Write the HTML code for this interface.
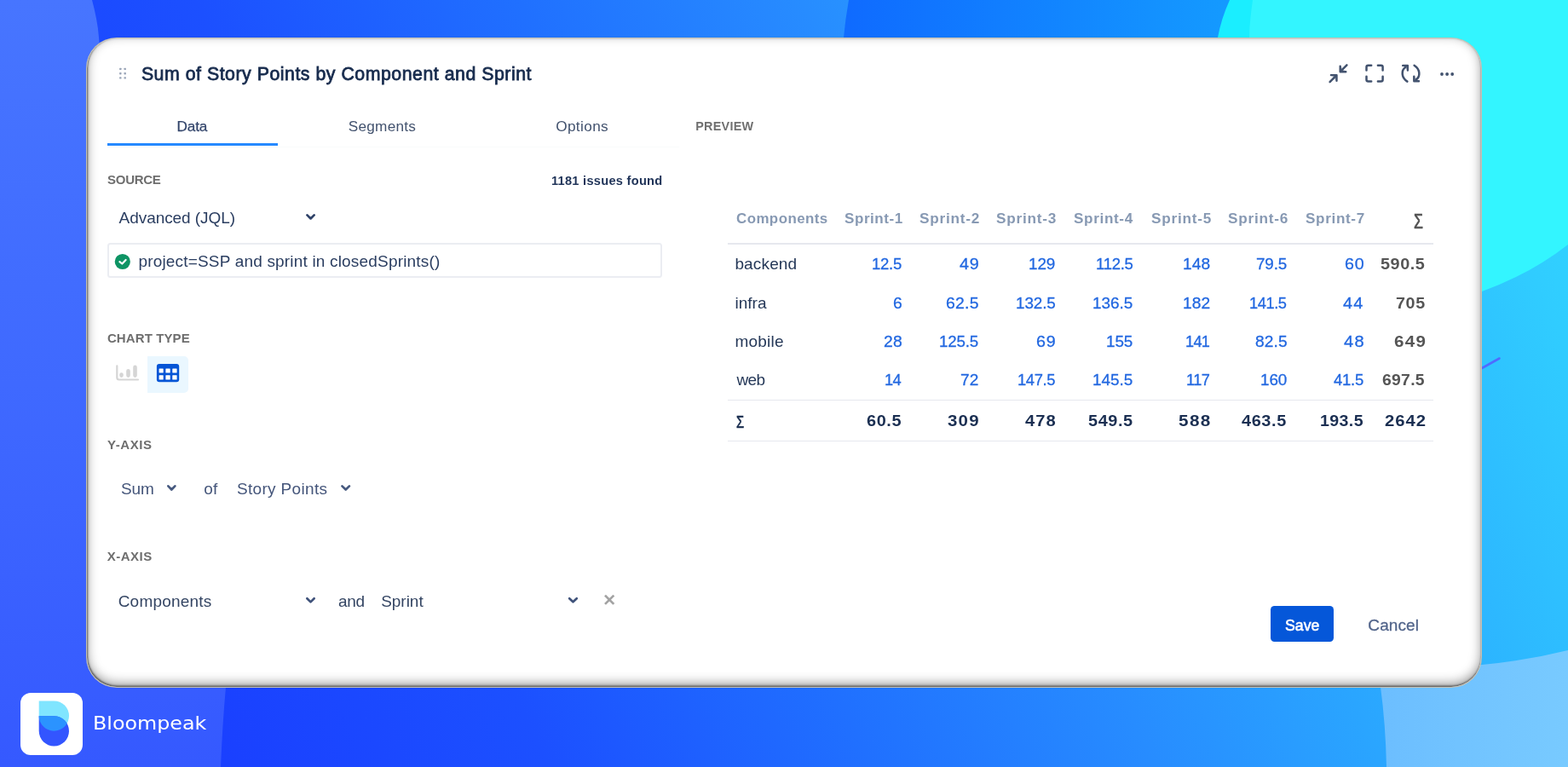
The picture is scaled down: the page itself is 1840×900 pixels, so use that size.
<!DOCTYPE html>
<html lang="en">
<head>
<meta charset="utf-8">
<title>Sum of Story Points by Component and Sprint</title>
<style>
html,body{margin:0;padding:0;width:1840px;height:900px;overflow:hidden;background:#1f5bff;}
body{position:relative;font-family:"Liberation Sans",sans-serif;}
#bg{position:absolute;left:0;top:0;width:1840px;height:900px;display:block;}
#card{position:absolute;left:101px;top:44px;width:1638px;height:763px;box-sizing:border-box;background:#fff;border-radius:36px;
  border:1px solid rgba(190,186,172,.9);
  box-shadow:inset 0.6px -1px 2px 0.6px rgba(0,0,0,.5), inset 0 -4px 13px rgba(0,0,0,.40);}
.t{position:absolute;white-space:nowrap;line-height:1;font-family:"Liberation Sans",sans-serif;}
.abs{position:absolute;}
#ui{position:absolute;left:0;top:0;width:1840px;height:900px;}
#icons{position:absolute;left:0;top:0;width:1840px;height:900px;display:block;pointer-events:none;}
</style>
</head>
<body>
<svg id="bg" viewBox="0 0 1840 900" width="1840" height="900" preserveAspectRatio="none">
<defs>
<linearGradient id="gBase" gradientUnits="userSpaceOnUse" x1="-123.8" y1="56.9" x2="1568.2" y2="-721.4">
<stop offset="0" stop-color="#1A40FF"/>
<stop offset="0.1854" stop-color="#1C50FF"/>
<stop offset="0.3707" stop-color="#2070FF"/>
<stop offset="0.5317" stop-color="#278CFF"/>
<stop offset="0.6634" stop-color="#2AA5FF"/>
<stop offset="0.878" stop-color="#30CCFF"/>
<stop offset="1" stop-color="#33E0FF"/>
</linearGradient>
<linearGradient id="gLeft" gradientUnits="userSpaceOnUse" x1="0" y1="0" x2="0" y2="900">
<stop offset="0" stop-color="#4775FF"/>
<stop offset="0.5" stop-color="#3F69FF"/>
<stop offset="1" stop-color="#3559FF"/>
</linearGradient>
<linearGradient id="gTop" gradientUnits="userSpaceOnUse" x1="996" y1="0" x2="1440" y2="0">
<stop offset="0" stop-color="#0F6BFF"/>
<stop offset="1" stop-color="#149AFF"/>
</linearGradient>
<linearGradient id="gPale" gradientUnits="userSpaceOnUse" x1="1620" y1="0" x2="1840" y2="0">
<stop offset="0" stop-color="#6CBEFF"/>
<stop offset="1" stop-color="#78CAFF"/>
</linearGradient>
</defs>
<rect x="0" y="0" width="1840" height="900" fill="url(#gBase)"/>
<path d="M0,0 H108 C112,15 115,30 116,44 C125,200 285,600 265,806 Q261,850 259,900 H0 Z" fill="url(#gLeft)"/>
<path d="M996,0 Q992,22 990,44 L990,160 L1520,160 L1520,0 Z" fill="url(#gTop)"/>
<path d="M1443,0 Q1433,22 1429,44 L1420,160 L1520,160 L1520,0 Z" fill="#1AEEFF"/>
<path d="M1470,0 C1468,15 1466,30 1466,44 C1462,250 1640,370 1739,342 Q1795,322 1840,287 V0 Z" fill="#33F5FF"/>
<path d="M1739,432 L1759.5,420.5" stroke="#4F6BFF" stroke-width="2.6" stroke-linecap="round" fill="none"/>
<path d="M1627,900 Q1626,850 1620,806 L1618,785 L1739,780 Q1792,775 1840,763 V900 Z" fill="url(#gPale)"/>
</svg>
<div id="card"></div>
<div id="ui">
<div class="abs" style="left:125.5px;top:167.5px;width:200.2px;height:3.8px;background:#2689FF"></div>
<div class="abs" style="left:126px;top:285.3px;width:651px;height:40.8px;box-sizing:border-box;border:2px solid #EBEDF2;border-radius:3.5px;background:#fff"></div>
<div class="abs" style="left:173.4px;top:418px;width:47.6px;height:43px;background:#EAF7FF;border-radius:0 5px 5px 0"></div>
<div class="abs" style="left:854px;top:285px;width:828.3px;height:1.6px;background:#E6E8EE"></div>
<div class="abs" style="left:854px;top:468.6px;width:828.3px;height:1.6px;background:#E6E8EE"></div>
<div class="abs" style="left:854px;top:516.6px;width:828.3px;height:1.6px;background:#E6E8EE"></div>
<div class="abs" style="left:1491px;top:710.5px;width:74.3px;height:42.4px;background:#0557D9;border-radius:4.5px"></div>
<div class="abs" style="left:23.6px;top:813.1px;width:73.5px;height:72.8px;background:#fff;border-radius:12px"></div>
<div class="abs" style="left:126px;top:172px;width:671px;height:1px;background:#FAFBFC"></div>

<svg id="icons" viewBox="0 0 1840 900" width="1840" height="900">
<rect x="140.1" y="79.7" width="2.4" height="2.4" rx="0.6" fill="#9AA5B8"/>
<rect x="140.1" y="85.0" width="2.4" height="2.4" rx="0.6" fill="#9AA5B8"/>
<rect x="140.1" y="90.2" width="2.4" height="2.4" rx="0.6" fill="#9AA5B8"/>
<rect x="145.5" y="79.7" width="2.4" height="2.4" rx="0.6" fill="#9AA5B8"/>
<rect x="145.5" y="85.0" width="2.4" height="2.4" rx="0.6" fill="#9AA5B8"/>
<rect x="145.5" y="90.2" width="2.4" height="2.4" rx="0.6" fill="#9AA5B8"/>
<path d="M360.45,252.35 L364.55,256.44 L368.65,252.35" fill="none" stroke="#2F4268" stroke-width="2.7" stroke-linecap="round" stroke-linejoin="round"/>
<path d="M197.35,570.35 L201.35,574.54 L205.35,570.35" fill="none" stroke="#46597F" stroke-width="2.7" stroke-linecap="round" stroke-linejoin="round"/>
<path d="M401.45,570.35 L405.70,574.54 L409.95,570.35" fill="none" stroke="#46597F" stroke-width="2.7" stroke-linecap="round" stroke-linejoin="round"/>
<path d="M360.35,702.25 L364.50,706.34 L368.65,702.25" fill="none" stroke="#40537B" stroke-width="2.7" stroke-linecap="round" stroke-linejoin="round"/>
<path d="M668.15,702.25 L672.45,706.34 L676.75,702.25" fill="none" stroke="#40537B" stroke-width="2.7" stroke-linecap="round" stroke-linejoin="round"/>
<path d="M710.0,698.6 L720.3,708.9 M720.3,698.6 L710.0,708.9" fill="none" stroke="#A2A2A2" stroke-width="2.7" stroke-linecap="butt"/>
<circle cx="143.8" cy="307" r="9.1" fill="#0E9464"/>
<path d="M140.4,307.2 L143.3,309.5 L147.6,305" fill="none" stroke="#fff" stroke-width="2.2" stroke-linecap="round" stroke-linejoin="round"/>
<path d="M137.3,429.4 V443 Q137.3,445.5 139.8,445.5 H162" fill="none" stroke="#D5D5D5" stroke-width="2.2" stroke-linecap="round"/>
<path d="M142.5,439.6 V440.6 M150.5,435.2 V440.6 M158.5,430.9 V440.6" fill="none" stroke="#D5D5D5" stroke-width="4.6" stroke-linecap="round"/>
<rect x="183.9" y="427" width="26.3" height="21.3" rx="3" fill="#0655D6"/>
<rect x="186.6" y="432.4" width="5.1" height="5.1" rx="0.5" fill="#fff"/>
<rect x="186.6" y="440.3" width="5.1" height="5.3" rx="0.5" fill="#fff"/>
<rect x="194.4" y="432.4" width="5.3" height="5.1" rx="0.5" fill="#fff"/>
<rect x="194.4" y="440.3" width="5.3" height="5.3" rx="0.5" fill="#fff"/>
<rect x="202.3" y="432.4" width="5.3" height="5.1" rx="0.5" fill="#fff"/>
<rect x="202.3" y="440.3" width="5.3" height="5.3" rx="0.5" fill="#fff"/>
<g fill="none" stroke="#42526E" stroke-width="2.5" stroke-linecap="round" stroke-linejoin="round"><path d="M1580.4,76.3 L1573.4,83.3"/><path d="M1572.7,77.6 V84.2 H1579.3 " fill="#42526E" fill-opacity="0.4" stroke-width="2.4"/><path d="M1560.6,96.1 L1567.8,88.9"/><path d="M1561.9,88.1 H1568.5 V94.7 " fill="#42526E" fill-opacity="0.4" stroke-width="2.4"/><path d="M1603.5,82.4 V78.8 Q1603.5,76.8 1605.5,76.8 H1609.2 M1616.9,76.8 H1620.6 Q1622.6,76.8 1622.6,78.8 V82.4 M1622.6,89.8 V93.4 Q1622.6,95.4 1620.6,95.4 H1616.9 M1609.2,95.4 H1605.5 Q1603.5,95.4 1603.5,93.4 V89.8"/><path d="M1651.4,95.6 C1644.2,91 1644,82.6 1649.6,78.6"/><path d="M1646.2,76.9 H1651.9 V82.6 " fill="#42526E" fill-opacity="0.4" stroke-width="2.4"/><path d="M1659.6,76.7 C1666.8,81.4 1667,89.8 1661.6,93.6"/><path d="M1665,95.3 H1659.3 V89.6 " fill="#42526E" fill-opacity="0.4" stroke-width="2.4"/></g>
<circle cx="1692" cy="87" r="1.9" fill="#42526E"/>
<circle cx="1698.1" cy="87" r="1.9" fill="#42526E"/>
<circle cx="1704.2" cy="87" r="1.9" fill="#42526E"/>
<path d="M45.7,822.4 H63.35 A17.65,17.65 0 0 1 81,840.05 A17.65,17.65 0 0 1 45.7,840.05 Z" fill="#80E5FF"/>
<path d="M45.7,840.2 H63.35 A17.65,17.65 0 0 1 81,857.85 A17.65,17.65 0 0 1 45.7,857.85 Z" fill="#3355FF"/>
<path d="M45.7,840.2 H63.35 A17.65,17.65 0 0 1 78.59,848.95 A17.65,17.65 0 0 1 45.7,840.2 Z" fill="#2B93FF"/>
</svg>
<div class="grp" id="widget-header">
<span class="t" style="left:165.90px;top:77px;font-size:21.3px;color:#172B4D;letter-spacing:0.524px;-webkit-text-stroke:0.8px #172B4D">Sum of Story Points by Component and Sprint</span>
</div>
<div class="grp" id="tabs">
<span class="t" style="left:207.43px;top:140px;font-size:17.2px;color:#33456B;letter-spacing:-0.099px;-webkit-text-stroke:0.25px #33456B">Data</span>
<span class="t" style="left:408.80px;top:140px;font-size:17.2px;color:#42526E;letter-spacing:0.244px">Segments</span>
<span class="t" style="left:652.20px;top:140px;font-size:17.2px;color:#42526E;letter-spacing:0.377px">Options</span>
</div>
<div class="grp" id="preview-label">
<span class="t" style="left:816.20px;top:141px;font-size:14.4px;color:#707070;letter-spacing:0.269px;font-weight:700">PREVIEW</span>
</div>
<div class="grp" id="source-section">
<span class="t" style="left:126.10px;top:203px;font-size:15px;color:#6E6E6E;letter-spacing:-0.314px;font-weight:700">SOURCE</span>
<span class="t" style="left:646.90px;top:205px;font-size:14.6px;color:#1F3358;letter-spacing:0.287px;font-weight:700">1181 issues found</span>
<span class="t" style="left:139.60px;top:246px;font-size:19px;color:#2A3D60;letter-spacing:-0.066px">Advanced (JQL)</span>
<span class="t" style="left:162.40px;top:297px;font-size:19px;color:#2A3D60;letter-spacing:0.183px">project=SSP and sprint in closedSprints()</span>
</div>
<div class="grp" id="chart-type-section">
<span class="t" style="left:125.90px;top:389px;font-size:15px;color:#6E6E6E;letter-spacing:0.107px;font-weight:700">CHART TYPE</span>
</div>
<div class="grp" id="y-axis-section">
<span class="t" style="left:125.90px;top:514px;font-size:15px;color:#6E6E6E;letter-spacing:0.605px;font-weight:700">Y-AXIS</span>
<span class="t" style="left:141.90px;top:564px;font-size:19px;color:#44557A;letter-spacing:-0.070px">Sum</span>
<span class="t" style="left:239.20px;top:564px;font-size:19px;color:#44557A;letter-spacing:0.233px">of</span>
<span class="t" style="left:277.90px;top:564px;font-size:19px;color:#44557A;letter-spacing:0.334px">Story Points</span>
</div>
<div class="grp" id="x-axis-section">
<span class="t" style="left:125.80px;top:645px;font-size:15px;color:#6E6E6E;letter-spacing:0.479px;font-weight:700">X-AXIS</span>
<span class="t" style="left:138.70px;top:696px;font-size:19px;color:#344563;letter-spacing:0.208px">Components</span>
<span class="t" style="left:397.00px;top:696px;font-size:19px;color:#344563;letter-spacing:-0.317px">and</span>
<span class="t" style="left:447.20px;top:696px;font-size:19px;color:#344563;letter-spacing:-0.031px">Sprint</span>
</div>
<div class="grp" id="preview-table">
<span class="t" style="left:864.00px;top:249px;font-size:16.6px;color:#8799B3;letter-spacing:0.446px;font-weight:700;transform-origin:0 0;transform:scaleX(1.0173)">Components</span>
<span class="t" style="left:991.00px;top:249px;font-size:16.6px;color:#8799B3;letter-spacing:0.540px;font-weight:700;transform-origin:0 0;transform:scaleX(1.0266)">Sprint-1</span>
<span class="t" style="left:1079.00px;top:249px;font-size:16.6px;color:#8799B3;letter-spacing:0.728px;font-weight:700;transform-origin:0 0;transform:scaleX(1.0362)">Sprint-2</span>
<span class="t" style="left:1169.00px;top:249px;font-size:16.6px;color:#8799B3;letter-spacing:0.728px;font-weight:700;transform-origin:0 0;transform:scaleX(1.0362)">Sprint-3</span>
<span class="t" style="left:1260.00px;top:249px;font-size:16.6px;color:#8799B3;letter-spacing:0.634px;font-weight:700;transform-origin:0 0;transform:scaleX(1.0309)">Sprint-4</span>
<span class="t" style="left:1350.70px;top:249px;font-size:16.6px;color:#8799B3;letter-spacing:0.728px;font-weight:700;transform-origin:0 0;transform:scaleX(1.0362)">Sprint-5</span>
<span class="t" style="left:1441.00px;top:249px;font-size:16.6px;color:#8799B3;letter-spacing:0.728px;font-weight:700;transform-origin:0 0;transform:scaleX(1.0362)">Sprint-6</span>
<span class="t" style="left:1531.70px;top:249px;font-size:16.6px;color:#8799B3;letter-spacing:0.634px;font-weight:700;transform-origin:0 0;transform:scaleX(1.0314)">Sprint-7</span>
<span class="t" style="left:862.40px;top:300px;font-size:19px;color:#253858;letter-spacing:0.155px">backend</span>
<span class="t" style="left:1023.47px;top:300px;font-size:19px;color:#2167E0;letter-spacing:-0.292px;-webkit-text-stroke:0.3px #2167E0;transform-origin:0 0;transform:scaleX(0.9760)">12.5</span>
<span class="t" style="left:1125.86px;top:300px;font-size:19px;color:#2167E0;letter-spacing:0.832px;-webkit-text-stroke:0.3px #2167E0;transform-origin:0 0;transform:scaleX(1.0415)">49</span>
<span class="t" style="left:1207.46px;top:300px;font-size:19px;color:#2167E0;letter-spacing:-0.109px;-webkit-text-stroke:0.3px #2167E0;transform-origin:0 0;transform:scaleX(0.9929)">129</span>
<span class="t" style="left:1285.87px;top:300px;font-size:19px;color:#2167E0;letter-spacing:-0.291px;-webkit-text-stroke:0.3px #2167E0;transform-origin:0 0;transform:scaleX(0.9747)">112.5</span>
<span class="t" style="left:1388.14px;top:300px;font-size:19px;color:#2167E0;letter-spacing:0.140px;-webkit-text-stroke:0.3px #2167E0;transform-origin:0 0;transform:scaleX(1.0093)">148</span>
<span class="t" style="left:1474.15px;top:300px;font-size:19px;color:#2167E0;letter-spacing:-0.120px;-webkit-text-stroke:0.3px #2167E0;transform-origin:0 0;transform:scaleX(0.9903)">79.5</span>
<span class="t" style="left:1577.86px;top:300px;font-size:19px;color:#2167E0;letter-spacing:0.693px;-webkit-text-stroke:0.3px #2167E0;transform-origin:0 0;transform:scaleX(1.0343)">60</span>
<span class="t" style="left:1620.00px;top:300px;font-size:19px;color:#555555;letter-spacing:0.517px;font-weight:700;transform-origin:0 0;transform:scaleX(1.0450)">590.5</span>
<span class="t" style="left:862.40px;top:346px;font-size:19px;color:#253858;letter-spacing:0.051px">infra</span>
<span class="t" style="left:1047.85px;top:346px;font-size:19px;color:#2167E0;-webkit-text-stroke:0.3px #2167E0;transform-origin:0 0;transform:scaleX(1.0146)">6</span>
<span class="t" style="left:1110.15px;top:346px;font-size:19px;color:#2167E0;letter-spacing:0.259px;-webkit-text-stroke:0.3px #2167E0;transform-origin:0 0;transform:scaleX(1.0216)">62.5</span>
<span class="t" style="left:1191.86px;top:346px;font-size:19px;color:#2167E0;letter-spacing:-0.086px;-webkit-text-stroke:0.3px #2167E0;transform-origin:0 0;transform:scaleX(0.9927)">132.5</span>
<span class="t" style="left:1282.45px;top:346px;font-size:19px;color:#2167E0;letter-spacing:-0.035px;-webkit-text-stroke:0.3px #2167E0;transform-origin:0 0;transform:scaleX(0.9970)">136.5</span>
<span class="t" style="left:1388.14px;top:346px;font-size:19px;color:#2167E0;letter-spacing:0.140px;-webkit-text-stroke:0.3px #2167E0;transform-origin:0 0;transform:scaleX(1.0093)">182</span>
<span class="t" style="left:1466.48px;top:346px;font-size:19px;color:#2167E0;letter-spacing:-0.465px;-webkit-text-stroke:0.3px #2167E0;transform-origin:0 0;transform:scaleX(0.9613)">141.5</span>
<span class="t" style="left:1576.16px;top:346px;font-size:19px;color:#2167E0;letter-spacing:1.017px;-webkit-text-stroke:0.3px #2167E0;transform-origin:0 0;transform:scaleX(1.0488)">44</span>
<span class="t" style="left:1637.70px;top:346px;font-size:19px;color:#555555;letter-spacing:0.594px;font-weight:700;transform-origin:0 0;transform:scaleX(1.0384)">705</span>
<span class="t" style="left:862.40px;top:391px;font-size:19px;color:#253858;letter-spacing:0.239px">mobile</span>
<span class="t" style="left:1036.85px;top:391px;font-size:19px;color:#2167E0;letter-spacing:0.360px;-webkit-text-stroke:0.3px #2167E0;transform-origin:0 0;transform:scaleX(1.0176)">28</span>
<span class="t" style="left:1102.46px;top:391px;font-size:19px;color:#2167E0;letter-spacing:-0.162px;-webkit-text-stroke:0.3px #2167E0;transform-origin:0 0;transform:scaleX(0.9862)">125.5</span>
<span class="t" style="left:1216.16px;top:391px;font-size:19px;color:#2167E0;letter-spacing:0.693px;-webkit-text-stroke:0.3px #2167E0;transform-origin:0 0;transform:scaleX(1.0343)">69</span>
<span class="t" style="left:1298.46px;top:391px;font-size:19px;color:#2167E0;letter-spacing:-0.109px;-webkit-text-stroke:0.3px #2167E0;transform-origin:0 0;transform:scaleX(0.9929)">155</span>
<span class="t" style="left:1391.49px;top:391px;font-size:19px;color:#2167E0;letter-spacing:-0.716px;-webkit-text-stroke:0.3px #2167E0;transform-origin:0 0;transform:scaleX(0.9551)">141</span>
<span class="t" style="left:1472.85px;top:391px;font-size:19px;color:#2167E0;letter-spacing:0.097px;-webkit-text-stroke:0.3px #2167E0;transform-origin:0 0;transform:scaleX(1.0080)">82.5</span>
<span class="t" style="left:1576.86px;top:391px;font-size:19px;color:#2167E0;letter-spacing:1.150px;-webkit-text-stroke:0.3px #2167E0;transform-origin:0 0;transform:scaleX(1.0583)">48</span>
<span class="t" style="left:1636.00px;top:391px;font-size:19px;color:#555555;letter-spacing:1.193px;font-weight:700;transform-origin:0 0;transform:scaleX(1.0830)">649</span>
<span class="t" style="left:864.40px;top:436px;font-size:19px;color:#253858;letter-spacing:-0.594px">web</span>
<span class="t" style="left:1038.18px;top:436px;font-size:19px;color:#2167E0;letter-spacing:-0.814px;-webkit-text-stroke:0.3px #2167E0;transform-origin:0 0;transform:scaleX(0.9625)">14</span>
<span class="t" style="left:1127.45px;top:436px;font-size:19px;color:#2167E0;letter-spacing:0.066px;-webkit-text-stroke:0.3px #2167E0;transform-origin:0 0;transform:scaleX(1.0032)">72</span>
<span class="t" style="left:1194.18px;top:436px;font-size:19px;color:#2167E0;letter-spacing:-0.385px;-webkit-text-stroke:0.3px #2167E0;transform-origin:0 0;transform:scaleX(0.9678)">147.5</span>
<span class="t" style="left:1282.45px;top:436px;font-size:19px;color:#2167E0;letter-spacing:-0.035px;-webkit-text-stroke:0.3px #2167E0;transform-origin:0 0;transform:scaleX(0.9970)">145.5</span>
<span class="t" style="left:1392.48px;top:436px;font-size:19px;color:#2167E0;letter-spacing:-0.605px;-webkit-text-stroke:0.3px #2167E0;transform-origin:0 0;transform:scaleX(0.9600)">117</span>
<span class="t" style="left:1479.16px;top:436px;font-size:19px;color:#2167E0;letter-spacing:-0.109px;-webkit-text-stroke:0.3px #2167E0;transform-origin:0 0;transform:scaleX(0.9929)">160</span>
<span class="t" style="left:1565.15px;top:436px;font-size:19px;color:#2167E0;letter-spacing:-0.292px;-webkit-text-stroke:0.3px #2167E0;transform-origin:0 0;transform:scaleX(0.9767)">41.5</span>
<span class="t" style="left:1622.30px;top:436px;font-size:19px;color:#555555;letter-spacing:0.247px;font-weight:700;transform-origin:0 0;transform:scaleX(1.0211)">697.5</span>
<span class="t" style="left:1017.30px;top:484px;font-size:19px;color:#1B2F52;letter-spacing:0.571px;font-weight:700;transform-origin:0 0;transform:scaleX(1.0479)">60.5</span>
<span class="t" style="left:1112.30px;top:484px;font-size:19px;color:#1B2F52;letter-spacing:1.128px;font-weight:700;transform-origin:0 0;transform:scaleX(1.0781)">309</span>
<span class="t" style="left:1203.30px;top:484px;font-size:19px;color:#1B2F52;letter-spacing:0.910px;font-weight:700;transform-origin:0 0;transform:scaleX(1.0621)">478</span>
<span class="t" style="left:1276.70px;top:484px;font-size:19px;color:#1B2F52;letter-spacing:0.551px;font-weight:700;transform-origin:0 0;transform:scaleX(1.0482)">549.5</span>
<span class="t" style="left:1383.30px;top:484px;font-size:19px;color:#1B2F52;letter-spacing:1.277px;font-weight:700;transform-origin:0 0;transform:scaleX(1.0894)">588</span>
<span class="t" style="left:1457.30px;top:484px;font-size:19px;color:#1B2F52;letter-spacing:0.562px;font-weight:700;transform-origin:0 0;transform:scaleX(1.0492)">463.5</span>
<span class="t" style="left:1548.97px;top:484px;font-size:19px;color:#1B2F52;letter-spacing:0.366px;font-weight:700;transform-origin:0 0;transform:scaleX(1.0321)">193.5</span>
<span class="t" style="left:1625.00px;top:484px;font-size:19px;color:#1B2F52;letter-spacing:0.875px;font-weight:700;transform-origin:0 0;transform:scaleX(1.0671)">2642</span>
<span class="t" style="left:1659.39px;top:247.70px;font-size:26px;color:#505050;transform-origin:0 0;transform:scale(0.6772,0.9149);-webkit-text-stroke:0.8px #505050">Σ</span>
<span class="t" style="left:863.62px;top:485.27px;font-size:23px;color:#172B4D;transform-origin:0 0;transform:scale(0.6377,0.8820);-webkit-text-stroke:0.8px #172B4D">Σ</span>
</div>
<div class="grp" id="actions">
<span class="t" style="left:1605.35px;top:724px;font-size:19px;color:#52658B;letter-spacing:0.096px;-webkit-text-stroke:0.3px #52658B">Cancel</span>
<span class="t" style="left:1507.98px;top:723.86px;font-size:19px;color:#FFFFFF;transform-origin:0 0;transform:scale(0.9322,0.9853);-webkit-text-stroke:0.6px #FFFFFF">Save</span>
</div>
<div class="grp" id="brand">
<span class="t" style="left:109.35px;top:837.62px;font-size:22.2px;color:#FFFFFF;transform-origin:0 0;transform:scale(1.0728,0.9652);font-family:'DejaVu Sans','Liberation Sans',sans-serif">Bloompeak</span>
</div>
</div>
</body>
</html>
